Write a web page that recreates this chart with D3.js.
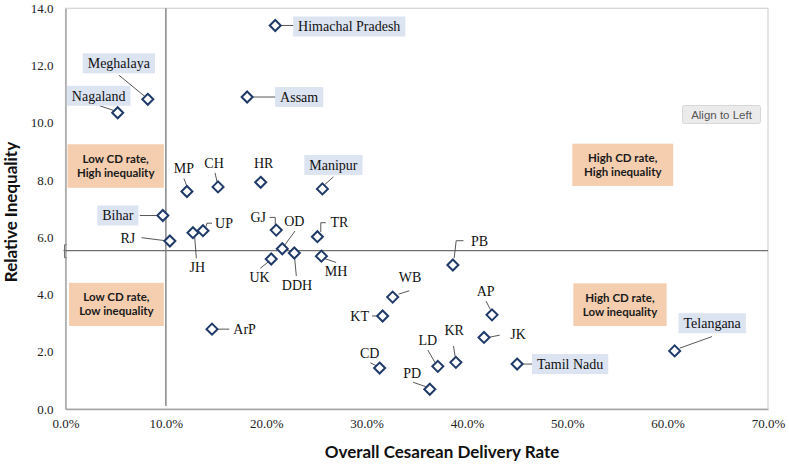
<!DOCTYPE html>
<html><head><meta charset="utf-8">
<script src="https://cdn.jsdelivr.net/npm/d3@7"></script>
<style>
html,body{margin:0;padding:0;background:#fff;}
svg{display:block;}
</style></head>
<body>
<svg id="chart" width="789" height="466"></svg>
<script>
// ---- data ----
const states = ["Himachal Pradesh","Meghalaya","Nagaland","Assam","MP","CH","HR","Manipur","Bihar","RJ","JH","UP","GJ","OD","DDH","UK","TR","MH","WB","KT","ArP","PB","AP","JK","KR","LD","CD","PD","Tamil Nadu","Telangana"];
const cdRate = [0.209,0.082,0.052,0.181,0.121,0.152,0.1945,0.256,0.097,0.104,0.127,0.137,0.210,0.216,0.228,0.205,0.251,0.255,0.326,0.316,0.146,0.386,0.425,0.417,0.389,0.371,0.313,0.363,0.450,0.607];
const inequality = [13.4,10.82,10.35,10.9,7.6,7.76,7.92,7.69,6.76,5.87,6.16,6.23,6.25,5.6,5.45,5.24,6.02,5.34,3.91,3.25,2.79,5.03,3.29,2.5,1.63,1.49,1.43,0.69,1.57,2.03];
const boxed = ["Himachal Pradesh","Meghalaya","Nagaland","Assam","Manipur","Bihar","Tamil Nadu","Telangana"];
const xTicks = [0,0.1,0.2,0.3,0.4,0.5,0.6,0.7];
const yTicks = [0,2,4,6,8,10,12,14];
const refX = 0.10;
const refY = 5.53;
const quadrants = [
  {lines:["Low CD rate,","High inequality"], x0:0.002, x1:0.098, y0:9.25, y1:7.73},
  {lines:["Low CD rate,","Low inequality"], x0:0.0035, x1:0.098, y0:4.41, y1:2.90},
  {lines:["High CD rate,","High inequality"], x0:0.5050, x1:0.6055, y0:9.27, y1:7.79},
  {lines:["High CD rate,","Low inequality"], x0:0.5060, x1:0.5990, y0:4.39, y1:2.90}
];

// ---- label layout (pixel offsets from the marker) ----
const labelLayout = {
  "Himachal Pradesh":{l:[74,1], lead:[[6,0],[22,0]]},
  "Meghalaya":{l:[-29,-36], lead:[[-28.7,-24],[-2.5,-2.5]]},
  "Nagaland":{l:[-19,-17], lead:[[-18,-7],[-3,-2]]},
  "Assam":{l:[52,0], lead:[[6,0],[29,0]]},
  "MP":{l:[-3,-23], lead:[[-3,-13],[0,-5]]},
  "CH":{l:[-4,-24], lead:[[-3,-14],[-1,-5]]},
  "HR":{l:[3,-19], lead:null},
  "Manipur":{l:[11,-24], lead:[[11,-12],[2,-4]]},
  "Bihar":{l:[-45,0], lead:[[-23,0],[-6,0]]},
  "RJ":{l:[-42,-3], lead:[[-28.3,-3.3],[-4.5,-0.3]]},
  "JH":{l:[4.4,34], lead:[[1.7,4],[3.4,25.6]]},
  "UP":{l:[21,-8], lead:[[3,-4],[4,-7.5],[9,-7.5]]},
  "GJ":{l:[-18,-13], lead:[[-6.7,-12.7],[-1,-12.7],[-1,-5]]},
  "OD":{l:[12,-28], lead:[[12.7,-17.7],[2,-3]]},
  "DDH":{l:[2.7,32], lead:[[0.3,4.7],[2,23]]},
  "UK":{l:[-11.7,18.3], lead:[[-11,9.3],[-2.7,2.7]]},
  "TR":{l:[22,-14.4], lead:[[8.4,-14],[3.4,-14],[3.4,-4.7]]},
  "MH":{l:[14.7,15], lead:[[3,2.3],[14.7,6.3]]},
  "WB":{l:[17.3,-19.7], lead:[[6,-3],[16.6,-6.3]]},
  "KT":{l:[-23,0], lead:[[-10.6,0],[-5,0]]},
  "ArP":{l:[32.6,0], lead:[[5.6,0],[17.3,0]]},
  "PB":{l:[26.6,-24.3], lead:[[10.6,-24.3],[3.3,-24.3],[1.3,-7]]},
  "AP":{l:[-6.4,-23.7], lead:[[-6,-13.7],[-1.7,-5.4]]},
  "JK":{l:[34,-3], lead:[[5.7,-0.3],[15.7,-2.3]]},
  "KR":{l:[-1.7,-32.3], lead:[[-2.4,-16.3],[-0.7,-5.6]]},
  "LD":{l:[-10,-26.3], lead:[[-10,-16.3],[-2.7,-3.6]]},
  "CD":{l:[-10,-15.3], lead:[[-9.3,-5.3],[-3.3,-2.3]]},
  "PD":{l:[-17.7,-16.6], lead:[[-16.7,-7],[-4,-2.6]]},
  "Tamil Nadu":{l:[53,0], lead:[[6,0],[17,0]]},
  "Telangana":{l:[37.5,-27.7], lead:[[37.3,-14.3],[5,-2.7]]}
};

const svg = d3.select("#chart");
const x = d3.scaleLinear().domain([0,0.7]).range([65.5,768]);
const y = d3.scaleLinear().domain([0,14]).range([409,8.3]);

const serif = "'Liberation Serif','Times New Roman',serif";
const sans = "Lato,'Liberation Sans',sans-serif";

// plot border (top/right light)
svg.append("rect").attr("x",x(0)).attr("y",y(14)).attr("width",x(0.7)-x(0)).attr("height",y(0)-y(14))
  .attr("fill","none").attr("stroke","#d4d4d4").attr("stroke-width",1.2);

// axes
const xAxis = svg.append("g").attr("transform",`translate(0,${y(0)})`)
  .call(d3.axisBottom(x).tickValues(xTicks).tickFormat(d3.format(".1%")).tickSize(0).tickPadding(10));
xAxis.select(".domain").attr("stroke","#a6a6a6").attr("stroke-width",1.5);
xAxis.selectAll("text").attr("font-family",serif).attr("font-size",13).attr("fill","#222");

const yAxis = svg.append("g").attr("transform",`translate(${x(0)},0)`)
  .call(d3.axisLeft(y).tickValues(yTicks).tickFormat(d3.format(".1f")).tickSize(0).tickPadding(12));
yAxis.select(".domain").attr("stroke","#a6a6a6").attr("stroke-width",1.5);
yAxis.selectAll("text").attr("font-family",serif).attr("font-size",13).attr("fill","#222");

// reference lines
svg.append("line").attr("x1",x(refX)).attr("x2",x(refX)).attr("y1",y(14)).attr("y2",y(0)-3)
  .attr("stroke","#8f8f8f").attr("stroke-width",1.6);
svg.append("line").attr("x1",x(0)-2).attr("x2",x(0.7)).attr("y1",y(refY)).attr("y2",y(refY))
  .attr("stroke","#707070").attr("stroke-width",1.2);
svg.append("path").attr("d",`M${x(0)+1},${y(refY)-6}H${x(0)-1}V${y(refY)+7}H${x(0)+1}`)
  .attr("fill","none").attr("stroke","#707070").attr("stroke-width",1);

// quadrant boxes
quadrants.forEach(q=>{
  const g = svg.append("g");
  g.append("rect").attr("x",x(q.x0)).attr("y",y(q.y0)).attr("width",x(q.x1)-x(q.x0)).attr("height",y(q.y1)-y(q.y0))
    .attr("fill","#f5ceb0");
  const cx = (x(q.x0)+x(q.x1))/2, cy=(y(q.y0)+y(q.y1))/2;
  q.lines.forEach((t,i)=>{
    g.append("text").attr("x",cx).attr("y",cy+(i-0.5)*14).attr("dy","0.35em")
      .attr("text-anchor","middle").attr("font-family",sans).attr("font-weight","bold")
      .attr("font-size",11.5).attr("fill","#1a1a1a").text(t);
  });
});

// leader lines
const pts = states.map((s,i)=>({name:s, px:x(cdRate[i]), py:y(inequality[i])}));
pts.forEach(p=>{
  const L = labelLayout[p.name];
  if(L.lead){
    svg.append("path").attr("d", d3.line()(L.lead.map(o=>[p.px+o[0],p.py+o[1]])))
      .attr("fill","none").attr("stroke","#444").attr("stroke-width",0.9);
  }
});

// labels
pts.forEach(p=>{
  const L = labelLayout[p.name];
  const lx = p.px+L.l[0], ly = p.py+L.l[1];
  const g = svg.append("g");
  const t = g.append("text").attr("x",lx).attr("y",ly).attr("dy","0.35em").attr("text-anchor","middle")
    .attr("font-family",serif).attr("font-size",14).attr("fill","#111").text(p.name);
  if(boxed.includes(p.name)){
    const w = t.node().getComputedTextLength();
    g.insert("rect","text").attr("x",lx-w/2-5).attr("y",ly-10).attr("width",w+10).attr("height",20)
      .attr("fill","#dce3f1");
  }
});

// markers
svg.selectAll("path.mk").data(pts).enter().append("path").attr("class","mk")
  .attr("d",p=>`M${p.px},${p.py-5.5}L${p.px+5.5},${p.py}L${p.px},${p.py+5.5}L${p.px-5.5},${p.py}Z`)
  .attr("fill","#fff").attr("stroke","#1f3a68").attr("stroke-width",2);

// axis titles
svg.append("text").attr("x",442).attr("y",452).attr("dy","0.35em").attr("text-anchor","middle")
  .attr("font-family",sans).attr("font-weight","bold").attr("font-size",17).attr("fill","#111")
  .text("Overall Cesarean Delivery Rate");
svg.append("text").attr("transform","translate(11,212) rotate(-90)").attr("dy","0.35em").attr("text-anchor","middle")
  .attr("font-family",sans).attr("font-weight","bold").attr("font-size",17).attr("fill","#111")
  .text("Relative Inequality");

// "Align to Left" tooltip button
const btn = svg.append("g");
btn.append("rect").attr("x",682.5).attr("y",105.5).attr("width",78).attr("height",18).attr("rx",2)
  .attr("fill","#ebebeb").attr("stroke","#d8d8d8");
btn.append("text").attr("x",721.5).attr("y",114.5).attr("dy","0.35em").attr("text-anchor","middle")
  .attr("font-family","'Liberation Sans',Arial,sans-serif").attr("font-size",11.5).attr("fill","#555").text("Align to Left");
</script>
</body></html>
